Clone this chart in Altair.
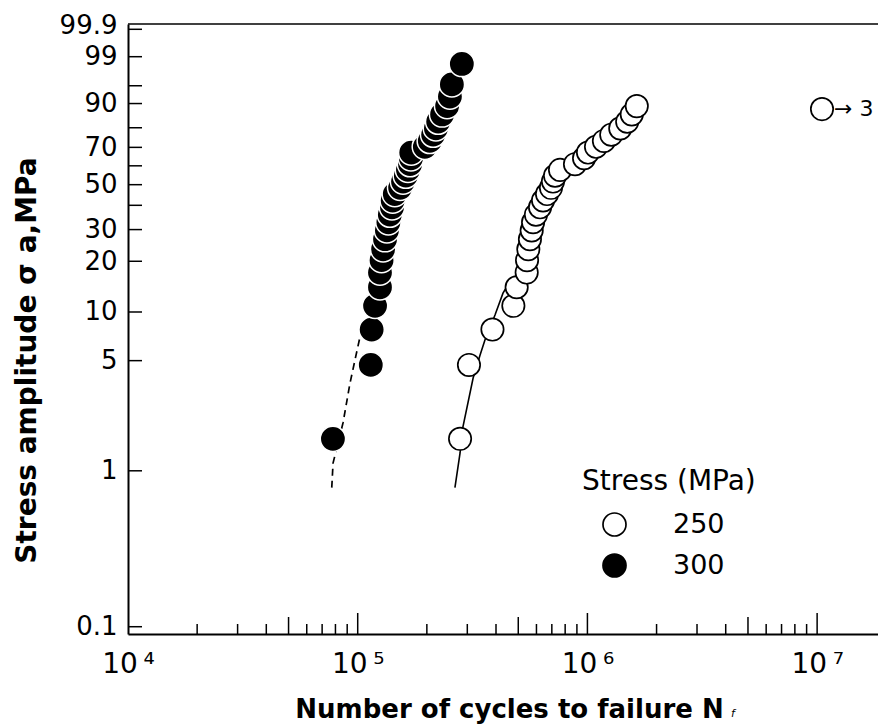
import math

import altair as alt
import pandas as pd

# ---- data -----------------------------------------------------------------
# Cumulative failure probability (%) and cycles to failure at 300 MPa
pct_300 = [1.6, 4.7, 7.8, 10.9, 14.1, 17.2, 20.3, 23.4, 26.6, 29.7, 32.8,
           35.9, 39.1, 42.2, 45.3, 48.4, 51.6, 54.7, 57.8, 60.9, 64.1, 67.2,
           70.3, 73.4, 76.6, 79.7, 82.8, 85.9, 89.1, 92.2, 95.3, 98.4]
cycles_300 = [7.8e4, 1.14e5, 1.15e5, 1.19e5, 1.25e5, 1.25e5, 1.27e5, 1.29e5,
              1.315e5, 1.34e5, 1.36e5, 1.38e5, 1.41e5, 1.42e5, 1.45e5, 1.53e5,
              1.575e5, 1.62e5, 1.655e5, 1.69e5, 1.705e5, 1.71e5, 1.96e5,
              2.06e5, 2.13e5, 2.19e5, 2.24e5, 2.33e5, 2.45e5, 2.52e5, 2.57e5,
              2.84e5]

# Cumulative failure probability (%) and cycles to failure at 250 MPa
pct_250 = [1.6, 4.7, 7.8, 10.9, 14.1, 17.2, 20.3, 23.4, 26.6, 29.7, 32.8,
           35.9, 39.1, 42.2, 45.3, 48.4, 51.6, 54.7, 57.8, 60.9, 64.1, 67.2,
           70.3, 73.4, 76.6, 79.7, 82.8, 85.9, 89.1]
cycles_250 = [2.79e5, 3.05e5, 3.86e5, 4.76e5, 4.92e5, 5.44e5, 5.46e5, 5.53e5,
              5.62e5, 5.72e5, 5.80e5, 5.97e5, 6.22e5, 6.41e5, 6.67e5, 6.94e5,
              7.08e5, 7.23e5, 7.60e5, 8.83e5, 9.67e5, 1.006e6, 1.09e6, 1.18e6,
              1.27e6, 1.39e6, 1.49e6, 1.56e6, 1.64e6]

# Run-outs at 250 MPa (three specimens unbroken)
runout_pct = [88.0]
runout_cycles = [1.05e7]
runout_label = ["\u2192 3"]

# Fitted distribution curves
fit_300_pct = [0.78, 1.12, 2.02, 3.62, 5.05, 7.02]
fit_300_cycles = [7.71e4, 7.81e4, 8.63e4, 9.26e4, 9.73e4, 1.023e5]
fit_250_pct = [0.78, 1.30, 1.90, 3.89, 5.42, 6.72, 9.59, 13.0, 16.0]
fit_250_cycles = [2.65e5, 2.79e5, 2.87e5, 3.18e5, 3.41e5, 3.58e5, 3.96e5,
                  4.29e5, 4.70e5]

# Probability-paper rulings
prob_labels = [0.1, 1, 5, 10, 20, 30, 50, 70, 90, 99, 99.9]
prob_ticks = [0.1, 1, 5, 10, 20, 30, 40, 50, 60, 70, 80, 90, 95, 99, 99.9]

# Logarithmic rulings of the life axis
decade_ticks = [1e5, 1e6, 1e7]
half_decade_ticks = [5e4, 5e5, 5e6]
minor_ticks = [2e4, 3e4, 4e4, 6e4, 7e4, 8e4, 9e4,
               2e5, 3e5, 4e5, 6e5, 7e5, 8e5, 9e5,
               2e6, 3e6, 4e6, 6e6, 7e6, 8e6, 9e6]
axis_decades = [1e4, 1e5, 1e6, 1e7]

# ---- layout ---------------------------------------------------------------
W, H = 750, 610
FONT = "DejaVu Sans"
WEIBULL = "log(-log(1 - datum.pct / 100))"


def weibull(p):
    return math.log(-math.log(1 - p / 100.0))


x_scale = alt.Scale(type="log", domain=[1e4, 10 ** 7.265], nice=False)
y_scale = alt.Scale(domain=[-7.015, 2.011], nice=False, zero=False)

x_axis = alt.Axis(
    values=axis_decades,
    labelExpr="'10\u2009' + ['\u2074','\u2075','\u2076','\u2077']"
              "[round(log(datum.value) / LN10) - 4]",
    labelFont=FONT, labelFontSize=28, labelColor="black", labelPadding=16,
    labelFlush=False,
    ticks=False, grid=False, domainColor="black", domainWidth=2,
    title="Number of cycles to failure N", titleFont=FONT, titleFontSize=26,
    titleFontWeight="bold", titleColor="black", titleX=381, titleY=83,
    titleAlign="center", titleBaseline="alphabetic",
)
y_axis = alt.Axis(
    values=[weibull(p) for p in prob_labels],
    labelExpr="format(100 * (1 - exp(-exp(datum.value))), '.1~f')",
    labelFont=FONT, labelFontSize=26, labelColor="black", labelPadding=11,
    labelFlush=False,
    # the topmost label sits a little above its ruling
    labelOffset={"condition": {"test": "datum.value > 1.8", "value": -4},
                 "value": 0},
    ticks=False, grid=False, domainColor="black", domainWidth=2,
    title="Stress amplitude \u03c3 a,MPa", titleFont=FONT, titleFontSize=28,
    titleFontWeight="bold", titleColor="black", titleX=-93, titleY=336,
    titleAngle=-90, titleAlign="center", titleBaseline="alphabetic",
)

X = alt.X("cycles:Q", scale=x_scale, axis=x_axis)
Y = alt.Y("w:Q", scale=y_scale, axis=y_axis)

# ---- tables ---------------------------------------------------------------
pts_250 = pd.DataFrame({"cycles": cycles_250, "pct": pct_250, "stress": "250"})
pts_300 = pd.DataFrame({"cycles": cycles_300, "pct": pct_300, "stress": "300"})
runout = pd.DataFrame({"cycles": runout_cycles, "pct": runout_pct,
                       "label": runout_label})
fit_300 = pd.DataFrame({"cycles": fit_300_cycles, "pct": fit_300_pct})
fit_250 = pd.DataFrame({"cycles": fit_250_cycles, "pct": fit_250_pct})
y_rulings = pd.DataFrame({"pct": prob_ticks})

# ---- rulings ----------------------------------------------------------------
y_ticks = alt.Chart(y_rulings).transform_calculate(w=WEIBULL).mark_rule(
    color="black", strokeWidth=1.5
).encode(y=Y, x=alt.value(0), x2=alt.value(14))


def x_rule(values, length):
    return alt.Chart(pd.DataFrame({"cycles": values})).mark_rule(
        color="black", strokeWidth=1.5
    ).encode(x=X, y=alt.value(H), y2=alt.value(H - length))


top_border = alt.Chart(pd.DataFrame({"k": [0]})).mark_rule(
    color="black", strokeWidth=1.5
).encode(x=alt.value(0), x2=alt.value(W), y=alt.value(0))

# ---- fitted curves ----------------------------------------------------------
line_300 = alt.Chart(fit_300).transform_calculate(w=WEIBULL).mark_line(
    color="black", strokeWidth=1.7, strokeDash=[7, 5]
).encode(x=X, y=Y, order="pct:Q")
line_250 = alt.Chart(fit_250).transform_calculate(w=WEIBULL).mark_line(
    color="black", strokeWidth=1.6
).encode(x=X, y=Y, order="pct:Q")

# ---- specimens ------------------------------------------------------------
fill = alt.Fill(
    "stress:N",
    scale=alt.Scale(domain=["250", "300"], range=["white", "black"]),
    legend=alt.Legend(
        title="Stress (MPa)", orient="none", legendX=454, legendY=444,
        padding=0, titleFont=FONT, titleFontSize=28, titleFontWeight="normal",
        titleColor="black", titlePadding=15, labelFont=FONT, labelFontSize=27,
        labelColor="black", labelOffset=45, symbolType="circle",
        symbolSize=529, symbolStrokeColor="black", symbolStrokeWidth=1.7,
        symbolOffset=19, rowPadding=10,
    ),
)
open_pts = alt.Chart(pts_250).transform_calculate(w=WEIBULL).mark_point(
    filled=True, shape="circle", size=500, stroke="black", strokeWidth=1.7,
    opacity=1,
).encode(x=X, y=Y, fill=fill)
solid_pts = alt.Chart(pts_300).transform_calculate(w=WEIBULL).mark_point(
    filled=True, shape="circle", size=640, stroke="white", strokeWidth=1.5,
    opacity=1,
).encode(x=X, y=Y, fill=fill)

runout_pt = alt.Chart(runout).transform_calculate(w=WEIBULL).mark_point(
    filled=True, shape="circle", size=500, fill="white", stroke="black",
    strokeWidth=1.7, opacity=1,
).encode(x=X, y=Y)
runout_txt = alt.Chart(runout).transform_calculate(w=WEIBULL).mark_text(
    align="left", baseline="middle", dx=12, font=FONT, fontSize=22,
    color="black",
).encode(x=X, y=Y, text="label:N")

# subscript of the life symbol N_f
subscript = alt.Chart(pd.DataFrame({"t": ["f"]})).mark_text(
    align="left", baseline="alphabetic", font=FONT, fontSize=11,
    fontStyle="italic", color="black",
).encode(x=alt.value(603), y=alt.value(693), text="t:N")

chart = alt.layer(
    y_ticks,
    x_rule(minor_ticks, 10),
    x_rule(half_decade_ticks, 17),
    x_rule(decade_ticks, 21),
    top_border,
    line_300,
    line_250,
    open_pts,
    solid_pts,
    runout_pt,
    runout_txt,
    subscript,
).properties(
    width=W,
    height=H,
    autosize=alt.AutoSizeParams(type="none"),
    padding={"left": 128, "top": 24, "right": 0, "bottom": 90},
    background="white",
).configure_view(stroke=None)

chart.save("out.html", embed_options={"renderer": "svg", "actions": False})
